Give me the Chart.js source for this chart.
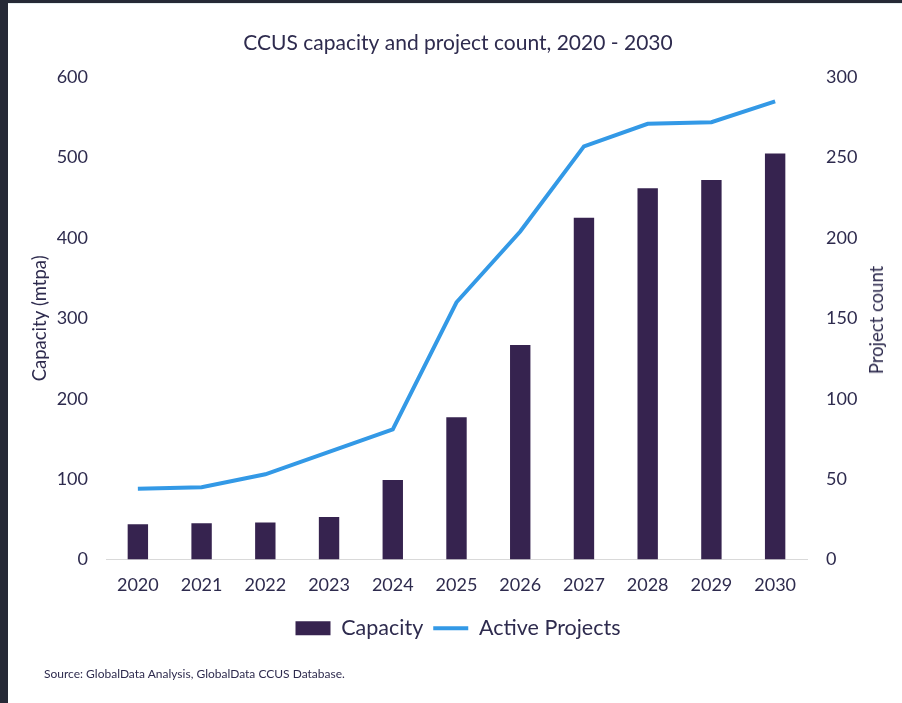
<!DOCTYPE html>
<html>
<head>
<meta charset="utf-8">
<script src="https://cdn.jsdelivr.net/npm/chart.js@4.4.1/dist/chart.umd.min.js"></script>
<style>
  html, body { margin: 0; padding: 0; background: #262936; width: 902px; height: 703px; overflow: hidden; }
  #box { position: absolute; left: 8px; top: 3px; width: 894px; height: 700px; background: #fff; border-top: 1px solid #e6eef0; }
  #source { position: absolute; left: 36px; top: 662px; font: 12px Lato, sans-serif; color: #2e2b4e; }
  #tituloDir { position: absolute; left: 868px; top: 316px; width: 0; height: 0; }
  #tituloDir span { position: absolute; transform: translate(-50%, -50%) rotate(-90deg); white-space: nowrap;
                    font: 18.5px Lato, sans-serif; color: #2e2b4e; }
</style>
</head>
<body>
<div id="box">
  <canvas id="grafico" width="894" height="699"></canvas>
  <div id="tituloDir"><span>Project count</span></div>
  <div id="source">Source: GlobalData Analysis, GlobalData CCUS Database.</div>
</div>
<script>
const anos = ['2020', '2021', '2022', '2023', '2024', '2025', '2026', '2027', '2028', '2029', '2030']
const capacidade = [44, 45, 46, 53, 99, 177, 267, 425, 462, 472, 505]
const projetos = [44, 45, 53, 67, 81, 160, 204, 257, 271, 272, 285]

const corTexto = '#2e2b4e'
const fonte = 'Lato, sans-serif'

const ctx = document.getElementById('grafico').getContext('2d')

new Chart(ctx, {
    data: {
        labels: anos,
        datasets: [
            {
                type: 'bar',
                label: 'Capacity',
                data: capacidade,
                backgroundColor: '#36234f',
                borderWidth: 0,
                pointStyle: 'rect',
                yAxisID: 'y',
                categoryPercentage: 1,
                barPercentage: 0.32,
                order: 1
            },
            {
                type: 'line',
                label: 'Active Projects',
                data: projetos,
                borderColor: '#3399e6',
                backgroundColor: '#3399e6',
                borderWidth: 4,
                pointRadius: 0,
                pointStyle: 'line',
                tension: 0,
                yAxisID: 'y1',
                order: 0
            }
        ]
    },
    options: {
        responsive: false,
        maintainAspectRatio: false,
        animation: false,
        layout: { padding: { left: 18, right: 12, top: 0, bottom: 54 } },
        plugins: {
            title: {
                display: true,
                text: 'CCUS capacity and project count, 2020 - 2030',
                color: corTexto,
                font: { family: fonte, size: 21, weight: 'normal' },
                padding: { top: 27, bottom: 21 }
            },
            legend: {
                position: 'bottom',
                labels: {
                    color: corTexto,
                    font: { family: fonte, size: 21.5 },
                    usePointStyle: true,
                    pointStyleWidth: 35,
                    boxHeight: 14,
                    padding: 10,
                    sort: (a, b) => a.datasetIndex - b.datasetIndex
                }
            },
            tooltip: { enabled: false }
        },
        scales: {
            x: {
                grid: { display: false, drawTicks: false },
                border: { display: true, color: '#d9d9d9', width: 1 },
                ticks: { color: corTexto, font: { family: fonte, size: 18 }, padding: 15 },
                afterFit: (s) => { s.height = 48 }
            },
            y: {
                position: 'left',
                min: 0,
                max: 600,
                grid: { display: false, drawTicks: false },
                border: { display: false },
                ticks: { stepSize: 100, color: corTexto, font: { family: fonte, size: 18 }, padding: 18 },
                title: {
                    display: true,
                    text: 'Capacity (mtpa)',
                    color: corTexto,
                    font: { family: fonte, size: 18.5 },
                    padding: 3
                },
                afterFit: (s) => { s.width = 80 }
            },
            y1: {
                position: 'right',
                min: 0,
                max: 300,
                grid: { display: false, drawTicks: false },
                border: { display: false },
                ticks: { stepSize: 50, color: corTexto, font: { family: fonte, size: 18 }, padding: 19 },
                afterFit: (s) => { s.width = 83 }
            }
        }
    }
})
</script>
</body>
</html>
